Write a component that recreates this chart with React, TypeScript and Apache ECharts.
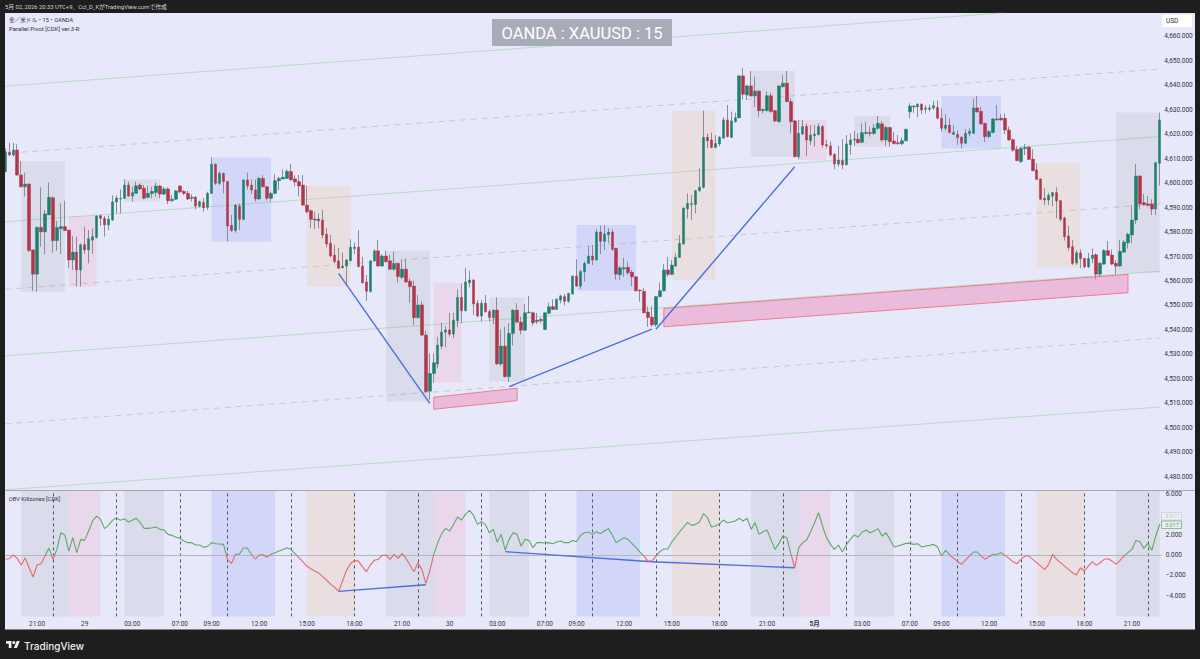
import React, { useEffect, useRef } from "react";
import * as echarts from "echarts";

// open, close, low, high
const candles: number[][] = [
[4604.7,4612.8,4604.3,4614.2],[4612.6,4611.5,4611.1,4616.5],[4611.5,4613.5,4610.8,4616.5],[4613.5,4603.3,4603.0,4615.8],[4603.3,4598.5,4598.3,4609.0],[4598.5,4599.6,4594.5,4604.3],[4599.6,4572.4,4572.0,4599.9],[4572.7,4562.8,4556.0,4572.7],
[4562.8,4581.9,4555.6,4582.2],[4581.9,4580.1,4574.0,4598.3],[4580.1,4587.4,4571.0,4589.0],[4587.0,4594.2,4587.0,4600.2],[4594.0,4576.5,4571.6,4594.5],[4576.5,4581.9,4572.4,4584.6],[4581.4,4582.2,4571.0,4591.7],[4582.2,4580.6,4580.6,4592.8],
[4580.8,4568.6,4565.2,4580.8],[4568.6,4571.8,4564.5,4578.4],[4571.8,4564.5,4557.7,4578.1],[4564.5,4574.8,4557.7,4575.4],[4574.8,4572.7,4571.0,4582.2],[4572.7,4577.3,4567.2,4580.8],[4576.7,4578.1,4571.0,4581.5],[4577.8,4586.6,4577.3,4586.8],
[4586.7,4585.6,4582.5,4587.0],[4585.6,4582.9,4578.1,4586.6],[4582.9,4585.2,4580.8,4586.8],[4584.9,4592.3,4584.6,4595.0],[4592.3,4593.9,4587.6,4595.0],[4593.5,4593.8,4587.6,4597.4],[4593.8,4599.2,4593.4,4601.5],[4599.2,4594.7,4594.5,4600.6],
[4594.7,4596.1,4592.4,4598.5],[4595.8,4598.9,4595.8,4600.6],[4599.2,4597.6,4597.2,4599.9],[4597.9,4593.8,4593.4,4599.2],[4594.2,4595.8,4593.8,4598.8],[4595.8,4596.6,4593.8,4598.5],[4596.2,4598.8,4594.5,4600.2],[4598.8,4595.5,4593.8,4599.2],
[4595.5,4597.6,4595.1,4598.5],[4597.6,4592.8,4591.4,4598.3],[4592.8,4593.4,4592.4,4595.1],[4593.4,4596.8,4593.1,4597.2],[4598.8,4596.4,4595.8,4599.2],[4596.6,4595.8,4595.1,4597.2],[4595.8,4593.5,4593.1,4596.9],[4593.8,4594.2,4592.4,4595.5],
[4594.2,4590.6,4589.3,4594.7],[4590.6,4592.4,4590.1,4592.8],[4592.1,4589.9,4588.3,4593.8],[4590.1,4595.8,4589.0,4596.5],[4595.8,4607.7,4595.5,4610.5],[4607.7,4599.9,4599.2,4608.1],[4599.9,4604.0,4599.2,4604.7],[4604.0,4600.6,4595.8,4604.3],
[4600.6,4582.5,4576.1,4600.9],[4582.7,4580.6,4580.1,4587.0],[4580.6,4591.0,4579.7,4591.4],[4590.6,4585.2,4580.8,4591.7],[4585.2,4601.3,4584.9,4601.5],[4601.3,4598.9,4597.4,4604.3],[4599.2,4597.2,4595.5,4601.5],[4597.2,4593.5,4592.4,4601.5],
[4593.5,4601.9,4593.1,4602.6],[4601.9,4598.5,4598.3,4603.3],[4598.5,4593.8,4592.8,4598.8],[4593.8,4595.8,4592.4,4596.5],[4595.8,4601.0,4595.5,4603.7],[4601.0,4601.9,4597.2,4602.6],[4601.7,4602.4,4601.5,4605.6],[4601.9,4604.8,4601.7,4605.6],
[4604.7,4601.3,4601.0,4607.8],[4601.7,4600.5,4598.6,4603.3],[4600.6,4598.8,4594.5,4603.3],[4599.2,4591.0,4590.8,4603.3],[4591.0,4588.3,4587.6,4598.8],[4588.7,4585.2,4581.5,4589.3],[4584.9,4585.3,4581.2,4588.3],[4585.3,4584.6,4581.5,4587.6],
[4584.9,4578.8,4577.4,4589.0],[4579.1,4575.1,4573.8,4581.5],[4575.4,4570.2,4569.7,4578.8],[4570.6,4567.9,4567.2,4574.7],[4568.2,4565.2,4564.9,4573.6],[4565.4,4566.1,4565.2,4571.6],[4566.1,4568.6,4558.4,4568.8],[4568.3,4573.8,4568.0,4577.0],
[4573.3,4573.8,4571.0,4575.7],[4573.8,4565.9,4565.6,4580.8],[4566.1,4559.3,4559.0,4569.9],[4559.6,4555.8,4551.9,4562.4],[4555.8,4568.2,4555.2,4568.6],[4568.2,4572.3,4567.9,4572.9],[4572.3,4566.1,4565.9,4576.8],[4566.1,4570.2,4565.9,4571.0],
[4570.2,4567.9,4567.5,4572.4],[4568.2,4564.8,4564.5,4570.6],[4564.8,4567.2,4564.2,4572.0],[4567.2,4561.8,4559.3,4567.5],[4561.5,4564.8,4560.7,4568.6],[4564.8,4559.6,4559.3,4569.1],[4559.9,4557.7,4551.1,4561.1],[4557.9,4545.0,4542.0,4560.1],
[4545.0,4550.2,4544.7,4554.3],[4550.2,4537.9,4537.5,4551.9],[4537.9,4514.8,4514.5,4539.7],[4515.0,4522.2,4511.4,4530.4],[4522.2,4526.6,4518.4,4530.4],[4526.1,4533.8,4524.3,4537.2],[4533.4,4539.1,4532.1,4542.9],[4539.1,4540.0,4532.9,4541.6],
[4540.0,4538.3,4537.2,4547.0],[4538.3,4544.0,4536.6,4547.0],[4543.8,4553.3,4541.1,4556.6],[4553.3,4547.9,4542.7,4559.0],[4547.9,4559.6,4547.5,4565.2],[4559.3,4560.4,4557.4,4564.2],[4560.4,4550.6,4546.1,4560.7],[4550.9,4545.7,4545.1,4552.2],
[4545.7,4550.9,4543.4,4552.2],[4550.9,4547.5,4547.0,4554.3],[4547.5,4545.1,4543.4,4548.4],[4545.0,4548.1,4542.4,4548.4],[4548.1,4526.1,4525.7,4553.3],[4526.1,4533.4,4525.3,4540.2],[4533.4,4520.9,4520.6,4541.3],[4520.9,4538.6,4518.8,4542.7],
[4538.6,4548.1,4533.6,4548.4],[4548.1,4543.2,4542.7,4550.9],[4543.2,4539.9,4538.2,4545.4],[4539.9,4547.0,4539.7,4550.6],[4547.0,4547.3,4546.8,4553.9],[4547.0,4542.9,4541.7,4547.5],[4543.4,4544.0,4542.4,4547.0],[4544.3,4543.8,4542.7,4545.1],
[4540.2,4547.0,4539.9,4547.3],[4546.8,4549.5,4546.5,4551.1],[4549.5,4548.4,4548.1,4552.5],[4548.4,4552.5,4548.1,4552.9],[4552.2,4553.9,4550.9,4554.4],[4553.6,4551.7,4550.0,4554.7],[4551.7,4554.9,4551.1,4555.2],[4554.7,4562.0,4554.4,4562.3],
[4562.0,4557.9,4557.7,4568.8],[4557.9,4563.8,4556.6,4564.5],[4563.8,4567.2,4559.7,4567.9],[4567.2,4570.2,4566.9,4574.3],[4570.2,4568.6,4566.5,4574.7],[4568.6,4580.0,4568.3,4581.1],[4580.0,4576.2,4571.0,4582.6],[4576.2,4579.2,4572.6,4582.9],
[4578.9,4580.0,4575.4,4581.6],[4580.0,4572.9,4572.4,4581.1],[4573.3,4562.8,4560.6,4573.6],[4562.6,4565.4,4560.4,4566.1],[4565.0,4565.4,4561.7,4569.4],[4565.6,4563.4,4562.4,4567.9],[4563.6,4561.7,4557.9,4564.5],[4561.7,4556.0,4555.6,4562.0],
[4556.3,4556.0,4551.5,4556.6],[4555.7,4547.0,4546.8,4557.1],[4547.3,4545.1,4541.3,4549.5],[4545.2,4542.1,4541.3,4549.8],[4542.1,4553.6,4541.3,4553.8],[4553.6,4556.0,4553.3,4559.3],[4556.0,4564.5,4555.7,4566.9],[4564.5,4562.7,4561.7,4569.9],
[4562.7,4566.5,4562.4,4568.6],[4566.1,4569.6,4565.8,4571.3],[4569.6,4575.4,4569.4,4578.8],[4575.1,4589.8,4574.8,4590.1],[4589.5,4591.7,4585.6,4595.8],[4591.3,4591.6,4584.9,4595.1],[4591.3,4596.9,4587.6,4597.2],[4596.9,4598.3,4596.5,4606.0],
[4598.3,4618.7,4597.8,4629.6],[4618.7,4617.3,4614.2,4620.3],[4617.6,4614.6,4614.2,4620.6],[4614.6,4616.2,4614.2,4619.6],[4616.0,4618.7,4615.1,4619.2],[4618.4,4625.8,4618.1,4626.9],[4625.8,4619.0,4618.7,4631.9],[4618.7,4625.4,4618.4,4629.2],
[4625.1,4626.7,4624.7,4628.8],[4626.7,4643.8,4626.5,4644.0],[4643.8,4636.3,4634.2,4646.9],[4636.0,4639.7,4634.0,4640.1],[4639.7,4635.6,4635.3,4645.8],[4635.6,4637.6,4631.0,4643.5],[4637.6,4629.6,4627.1,4638.0],[4629.6,4630.1,4628.5,4630.5],
[4629.6,4635.7,4629.2,4637.4],[4635.7,4629.2,4628.8,4636.9],[4629.6,4625.4,4624.8,4629.9],[4625.1,4639.7,4624.8,4640.0],[4639.4,4640.8,4639.1,4644.2],[4640.8,4633.3,4633.0,4645.8],[4633.3,4625.1,4620.3,4634.6],[4625.4,4610.8,4610.5,4625.8],
[4610.8,4620.3,4609.7,4625.8],[4620.1,4623.1,4619.6,4625.8],[4623.1,4617.6,4611.1,4624.4],[4617.3,4619.6,4615.6,4623.7],[4619.4,4620.0,4614.9,4623.7],[4619.8,4623.1,4619.6,4624.4],[4623.1,4615.6,4614.6,4623.7],[4615.7,4615.2,4614.2,4617.6],
[4615.2,4611.5,4610.8,4616.9],[4611.7,4607.8,4605.6,4612.2],[4607.8,4609.4,4606.7,4615.2],[4609.2,4607.5,4605.6,4617.9],[4607.5,4616.0,4607.2,4619.6],[4615.7,4617.6,4611.6,4620.3],[4617.6,4617.9,4615.2,4621.4],[4617.9,4616.5,4616.2,4620.3],
[4616.7,4620.6,4616.3,4624.4],[4620.3,4620.7,4619.7,4625.1],[4620.7,4620.3,4619.0,4623.1],[4620.3,4622.5,4619.7,4624.2],[4622.4,4624.4,4621.7,4627.4],[4624.2,4617.6,4616.9,4625.4],[4617.6,4622.7,4615.2,4623.3],[4622.7,4616.9,4614.9,4623.1],
[4617.2,4616.1,4615.8,4621.0],[4616.5,4616.1,4615.6,4619.7],[4616.1,4617.3,4615.4,4618.7],[4617.3,4622.0,4617.1,4622.2],[4629.1,4631.5,4626.5,4632.6],[4631.2,4631.5,4628.8,4631.8],[4631.2,4632.2,4626.9,4632.6],[4632.2,4629.9,4628.2,4632.6],
[4630.2,4630.6,4628.5,4631.8],[4630.2,4630.7,4629.3,4632.1],[4630.7,4631.6,4629.9,4633.7],[4630.9,4626.5,4626.1,4633.7],[4626.5,4622.4,4621.0,4630.6],[4622.4,4623.7,4621.4,4628.2],[4623.7,4620.7,4620.3,4626.5],[4619.9,4620.7,4619.7,4623.7],
[4619.9,4618.6,4615.6,4621.4],[4618.7,4616.3,4614.1,4619.2],[4616.3,4620.3,4616.0,4622.0],[4620.2,4621.2,4619.0,4622.4],[4620.3,4630.7,4620.1,4634.6],[4630.7,4629.1,4628.8,4635.6],[4629.3,4624.2,4623.9,4631.2],[4624.4,4619.0,4616.8,4624.7],
[4619.0,4621.0,4618.3,4621.7],[4620.7,4626.2,4620.3,4626.5],[4625.8,4626.2,4625.5,4631.9],[4626.5,4625.8,4625.5,4628.2],[4626.5,4621.7,4620.1,4628.5],[4621.7,4617.6,4617.3,4623.1],[4617.7,4613.5,4612.8,4618.3],[4613.8,4609.2,4608.9,4615.2],
[4608.8,4614.2,4608.1,4614.9],[4614.1,4614.6,4611.5,4616.0],[4614.7,4609.7,4609.4,4615.2],[4609.8,4605.1,4604.8,4613.8],[4605.4,4601.5,4601.3,4608.1],[4601.7,4593.4,4593.1,4601.9],[4593.8,4593.1,4591.0,4597.9],[4593.1,4595.0,4591.0,4596.1],
[4594.7,4596.1,4590.4,4596.5],[4596.1,4592.7,4585.6,4598.3],[4592.8,4585.2,4584.2,4593.1],[4585.7,4578.1,4576.5,4586.3],[4578.4,4573.7,4572.4,4582.5],[4574.0,4567.2,4566.5,4576.7],[4567.4,4571.5,4566.6,4572.6],[4571.5,4569.2,4565.2,4572.9],
[4569.2,4565.8,4565.2,4569.5],[4565.8,4569.2,4565.2,4571.5],[4569.2,4570.6,4567.2,4573.3],[4570.7,4562.8,4560.7,4571.3],[4562.8,4567.2,4561.8,4567.9],[4566.9,4572.5,4566.6,4572.9],[4572.4,4570.5,4570.2,4576.3],[4570.6,4566.9,4566.5,4572.9],
[4567.2,4566.1,4562.8,4568.6],[4566.1,4572.1,4565.8,4576.7],[4571.8,4575.9,4571.5,4576.7],[4575.6,4579.1,4573.2,4579.7],[4578.8,4584.9,4575.4,4591.0],[4584.9,4602.9,4583.3,4607.8],[4602.9,4591.5,4589.3,4603.2],[4592.0,4591.1,4590.9,4595.5],
[4591.5,4590.9,4590.4,4594.7],[4591.5,4589.4,4586.9,4593.4],[4589.4,4608.3,4586.9,4608.8],[4608.1,4625.8,4599.1,4628.8],
];

const obv: number[] = [
-0.39,-0.36,0,-0.33,-0.98,-0.29,-1.24,-2.15,-0.98,-0.85,-0.10,0.68,-0.42,0.55,2.18,1.96,0.39,1.70,0.23,1.53,
1.43,2.35,3.33,3.81,3.49,2.58,2.90,3.39,3.65,3.39,3.55,3.23,3.39,3.59,3.16,2.61,2.61,2.67,2.74,2.51,
2.45,2.02,1.92,1.76,1.63,1.37,1.21,1.21,0.98,0.98,0.75,0.85,1.21,1.11,1.08,1.04,-0.42,-0.82,0.07,0.07,
0.68,0.68,0.07,-0.39,0,0.03,-0.20,0.07,0.23,0.39,0.55,0.72,0.55,0.13,-0.26,-0.65,-1.08,-1.34,-1.56,-1.76,
-2.12,-2.45,-2.87,-3.13,-3.55,-2.54,-1.50,-0.85,-0.52,-0.59,-1.14,-1.63,-0.98,-0.52,-0.42,-0.03,0,-0.42,0.07,-0.33,
0.13,-0.33,-0.98,-1.63,-0.75,-1.40,-2.77,-1.56,0.07,1.21,2.09,2.61,2.35,3.00,3.72,3.42,3.98,4.37,3.91,3.00,
3.26,3.00,2.18,2.51,1.27,2.02,0.49,1.53,2.18,2.02,0.88,1.53,1.43,0.72,1.21,1.21,1.17,1.21,1.11,1.27,
1.37,1.21,1.21,1.43,1.30,1.92,2.18,2.25,2.02,2.28,2.09,2.35,2.58,1.96,1.21,1.47,1.70,1.53,1.11,0.72,
0.29,-0.10,-0.59,-0.59,-0.10,0.33,0.59,0.59,1.27,1.76,2.28,2.74,3.19,2.90,3.00,3.23,4.04,3.65,2.74,2.84,
3.06,3.42,3.16,3.23,3.33,3.59,3.33,3.59,2.51,3.16,2.02,2.28,2.45,1.53,0.55,1.11,1.86,1.70,0.13,-1.24,
0.72,1.21,1.47,2.28,3.16,4.14,2.84,1.70,1.04,0.55,0.98,0.29,0.98,1.53,1.96,1.76,2.25,2.45,2.18,2.35,
2.58,1.86,2.18,1.53,0.78,0.88,1.01,1.14,1.14,1.04,1.11,0.78,0.88,0.95,1.04,0.78,-0.10,0.46,0.07,-0.33,
-0.59,-0.91,-0.52,-0.10,0.29,0.29,-0.10,-0.42,-0.16,0.07,0.07,0.23,-0.03,-0.33,-0.65,-0.85,-0.42,-0.10,-0.10,-0.42,
-0.75,-1.08,-1.40,-0.91,0.07,-0.42,-0.75,-1.08,-1.40,-1.73,-1.96,-1.24,-1.56,-1.08,-0.65,-1.01,-0.75,-0.42,-0.36,-0.59,
-0.91,-0.52,-0.10,0.23,0.55,1.43,1.30,0.65,1.14,0.46,1.86,3.017,
];

const categories = candles.map((_, i) => String(i));
const tickIndex = [8,20,32,44,52,64,76,88,100,112,124,136,144,156,168,180,192,204,216,228,236,248,260,272,284];
const tickText = ["21:00","29","03:00","07:00","09:00","12:00","15:00","18:00","21:00","30","03:00","07:00","09:00","12:00","15:00","18:00","21:00","5月","03:00","07:00","09:00","12:00","15:00","18:00","21:00"];
const dayLabels = ["5月"];
const priceTicks = [4480,4490,4500,4510,4520,4530,4540,4550,4560,4570,4580,4590,4600,4610,4620,4630,4640,4650,4660];
const obvTicks = [-4,-2,0,2,6];
const dashedDays = [12,28,44,56,72,88,104,120,136,148,164,180,196,212,228,240,256,272,288];

const GRAY = "rgba(120,130,130,0.13)", PINK = "rgba(240,130,150,0.15)", BLUE = "rgba(100,130,250,0.17)", SAND = "rgba(240,180,90,0.16)";
// killzones: start candle, end candle, top price, bottom price, colour
const zones: [number, number, number, number, string][] = [
[4,15,4609.0,4555.6,GRAY],[16,23,4586.6,4557.7,PINK],[30,39,4601.5,4592.4,GRAY],[52,67,4610.5,4576.1,BLUE],
[76,87,4598.8,4557.7,SAND],[96,107,4572.4,4510.7,GRAY],[108,115,4559.3,4518.4,PINK],[122,131,4553.3,4518.8,GRAY],
[144,159,4582.9,4556.0,BLUE],[168,179,4629.6,4560.4,SAND],[188,199,4645.8,4610.8,GRAY],[200,207,4625.8,4609.4,PINK],
[214,223,4627.4,4614.9,GRAY],[236,251,4635.6,4614.1,BLUE],[260,271,4608.1,4565.6,SAND],[280,291,4628.8,4563.4,GRAY],
];
const bands: [number, number, string][] = [
[4,16,GRAY],[16,24,PINK],[30,40,GRAY],[52,68,BLUE],[76,88,SAND],[96,108,GRAY],[108,116,PINK],[122,132,GRAY],
[144,160,BLUE],[168,180,SAND],[188,200,GRAY],[200,208,PINK],[214,224,GRAY],[236,252,BLUE],[260,272,SAND],[280,291,GRAY],
];
const channelGreen: number[][] = [[0,4639.6,251,4669.5],[0,4584.2,291,4619.0],[0,4529.4,291,4564.0],[0,4474.7,291,4508.5]];
const channelDashed: number[][] = [[4,4612.6,291,4646.6],[0,4556.6,291,4591.5],[0,4501.6,291,4536.7]];
const trendMain: number[][] = [[84,4563.1,107,4510.0],[127,4516.8,163,4540.3],[164,4540.3,199,4606.7]];
const trendObv: number[][] = [[84,-3.55,106,-2.90],[126,0.33,163,-0.65],[163,-0.65,199,-1.24]];
const pinkBoxes: number[][][] = [
[[108,4512.5],[129,4516.2],[129,4511.1],[108,4507.6]],
[[166,4548.8],[283,4562.7],[283,4555.2],[166,4541.3]],
];

const BG = "#e8e8fb", DARK = "#1e1e1e", UP = "#1f7f6d", DOWN = "#b2354a", WICK = "#8c8c94";
const FONT = "Roboto, 'Noto Sans CJK JP', sans-serif";
const AXIS = "#34343c";

echarts.graphic.registerShape("tvlogo", echarts.graphic.extendPath(
  "M14 22H7V11H0V4h14v18zM28 22h-8l7.5-18h8L28 22zM16 8a4 4 0 1 0 8 0a4 4 0 1 0-8 0z", {}) as any);

const priceText = (v: number) => v.toLocaleString("en-US", { minimumFractionDigits: 3, maximumFractionDigits: 3 });

export default function App() {
  const ref = useRef<HTMLDivElement>(null);
  useEffect(() => {
    document.body.style.margin = "0";
    document.body.style.background = DARK;
    const chart = echarts.init(ref.current!, undefined, { renderer: "svg" });
    const label = (x: number, y: number, text: string, size: number, fill: string, extra: any = {}) => ({
      type: "text", x, y, z: 60, silent: true,
      style: { text, fontSize: size, fill, fontFamily: FONT, textVerticalAlign: "middle", ...extra },
    });
    const lineSeries = (r: number[], dashed: boolean, color: string) => ({
      type: "line", xAxisIndex: 0, yAxisIndex: 0, silent: true, symbol: "none", z: 1,
      data: [[r[0], r[1]], [r[2], r[3]]],
      lineStyle: { width: 1, color, type: dashed ? [6, 5] : "solid" },
    });
    const blue = { color: "#4a6fdf", width: 1.4, type: "solid" };
    chart.setOption({
      animation: false,
      backgroundColor: DARK,
      tooltip: { show: false },
      grid: [
        { left: 3.35, top: 13, width: 1158.35, height: 477 },
        { left: 3.35, top: 491, width: 1158.35, height: 125.4 },
      ],
      xAxis: [
        { type: "category", gridIndex: 0, data: categories, show: false, boundaryGap: true },
        {
          type: "category", gridIndex: 1, data: categories, boundaryGap: true,
          axisLine: { show: false }, axisTick: { show: false },
          axisLabel: {
            interval: (i: number) => tickIndex.includes(i),
            margin: 4, fontSize: 6.5, color: AXIS, fontFamily: FONT,
            formatter: (_: string, i: number) => {
              const t = tickText[tickIndex.indexOf(i)] ?? "";
              return dayLabels.includes(t) ? `{b|${t}}` : t;
            },
            rich: { b: { fontWeight: "bold", fontSize: 6.5, color: AXIS, fontFamily: FONT } },
          },
        },
      ],
      yAxis: [
        {
          type: "value", gridIndex: 0, position: "right", min: 4474.6, max: 4669.5,
          splitLine: { show: false }, axisLine: { show: false }, axisTick: { show: false },
          axisLabel: { customValues: priceTicks, margin: 2.5, fontSize: 6.5, color: AXIS, fontFamily: FONT, formatter: priceText },
        },
        {
          type: "value", gridIndex: 1, position: "right", min: -6, max: 6.26,
          splitLine: { show: false }, axisLine: { show: false }, axisTick: { show: false },
          axisLabel: {
            customValues: obvTicks, margin: 4, fontSize: 6.5, color: AXIS, fontFamily: FONT,
            formatter: (v: number) => (v < 0 ? "−" : "") + Math.abs(v).toFixed(3),
          },
        },
      ],
      visualMap: [{
        type: "piecewise", show: false, seriesIndex: 0, dimension: 1,
        pieces: [{ gte: -6, lt: 0, color: "#e8666a" }, { gte: 0, lte: 6.26, color: "#5fa866" }],
      }],
      series: [
        {
          name: "OBV", type: "line", xAxisIndex: 1, yAxisIndex: 1, data: obv, symbol: "none", z: 4, silent: true,
          lineStyle: { width: 1.1 },
        },
        {
          type: "line", xAxisIndex: 1, yAxisIndex: 1, data: [], silent: true, z: 1,
          markArea: {
            silent: true, z: 1,
            data: bands.map((b) => [
              { xAxis: b[0], yAxis: -6, itemStyle: { color: b[2] } },
              { xAxis: b[1], yAxis: 6.26 },
            ]),
          },
          markLine: {
            silent: true, symbol: "none", z: 3, label: { show: false }, animation: false,
            data: [
              ...dashedDays.map((d) => ({ xAxis: d, lineStyle: { color: "#55555f", width: 1, type: [3, 3] } })),
              { yAxis: 0, lineStyle: { color: "#b4b4c2", width: 1, type: "solid" } },
              ...trendObv.map((r) => [
                { coord: [r[0], r[1]], lineStyle: blue },
                { coord: [r[2], r[3]] },
              ]),
            ],
          },
        },
        ...channelGreen.map((r) => lineSeries(r, false, "#b5dcc2")),
        ...channelDashed.map((r) => lineSeries(r, true, "#c8c8d2")),
        {
          type: "line", xAxisIndex: 0, yAxisIndex: 0, data: [], silent: true, z: 1,
          markArea: {
            silent: true, z: 2,
            data: zones.map((b) => [
              { xAxis: b[0], yAxis: b[2], itemStyle: { color: b[4] } },
              { xAxis: b[1], yAxis: b[3] },
            ]),
          },
          markLine: {
            silent: true, symbol: "none", z: 8, label: { show: false },
            data: trendMain.map((r) => [
              { coord: [r[0], r[1]], lineStyle: blue },
              { coord: [r[2], r[3]] },
            ]),
          },
        },
        {
          type: "custom", xAxisIndex: 0, yAxisIndex: 0, silent: true, z: 3, clip: true,
          data: pinkBoxes.map((_, i) => [i]),
          renderItem: (params: any, api: any) => ({
            type: "polygon",
            shape: { points: pinkBoxes[params.dataIndex].map((p) => api.coord(p)) },
            style: { fill: "rgba(236,150,195,0.55)", stroke: "#e8808f", lineWidth: 1 },
          }),
        },
        {
          name: "wicks", type: "candlestick", xAxisIndex: 0, yAxisIndex: 0, silent: true, z: 5, barWidth: 1,
          data: candles,
          itemStyle: { color: WICK, color0: WICK, borderColor: WICK, borderColor0: WICK, borderWidth: 1 },
        },
        {
          name: "XAUUSD", type: "candlestick", xAxisIndex: 0, yAxisIndex: 0, silent: true, z: 6, barWidth: 3,
          data: candles.map(([o, c]) => [o, c, Math.min(o, c), Math.max(o, c)]),
          itemStyle: { color: UP, color0: DOWN, borderColor: UP, borderColor0: DOWN, borderWidth: 0.5 },
        },
      ],
      graphic: [
        { type: "rect", z: 0, silent: true, shape: { x: 5, y: 13, width: 1190, height: 616.5 }, style: { fill: BG } },
        { type: "rect", z: 55, silent: true, shape: { x: 0, y: 0, width: 5, height: 659 }, style: { fill: DARK } },
        { type: "line", z: 55, silent: true, shape: { x1: 5, y1: 490.5, x2: 1195, y2: 490.5 }, style: { stroke: "#a6a6ae", lineWidth: 1 } },
        label(5, 7, "5月 02, 2026 20:33 UTC+9、Ccl_D_KがTradingView.comで作成", 5.8, "#d8d8d8"),
        label(9, 20, "金／米ドル・15・OANDA", 5.6, "#30303a"),
        label(9, 28.5, "Parallel Pivot [CDK] ver.3-R", 6, "#30303a"),
        label(8.7, 498.5, "OBV Killzones [CDK]", 5.8, "#30303a"),
        { type: "rect", z: 58, silent: true, shape: { x: 492, y: 19, width: 180, height: 27 }, style: { fill: "#a8acb8" } },
        label(582, 33, "OANDA : XAUUSD : 15", 16.5, "#ffffff", { textAlign: "center" }),
        { type: "rect", z: 58, silent: true, shape: { x: 1162, y: 15, width: 30, height: 12 }, style: { fill: "#ffffff" } },
        label(1166, 21, "USD", 6.5, "#30303a"),
        { type: "rect", z: 58, silent: true, shape: { x: 1161.5, y: 512.5, width: 20, height: 7.5 }, style: { fill: "#eeeef8", stroke: "#c8c8d0", lineWidth: 0.7 } },
        label(1165, 516, "3.017", 5.6, "#c4c4cc"),
        { type: "rect", z: 58, silent: true, shape: { x: 1161.5, y: 521, width: 20, height: 7.5 }, style: { fill: "#eeeef8", stroke: "#5fa866", lineWidth: 0.7 } },
        label(1165, 524.8, "3.017", 5.6, "#5fa866"),
        { type: "tvlogo", z: 60, silent: true, x: 6, y: 639.4, scaleX: 0.39, scaleY: 0.39, style: { fill: "#f0f0f0" } },
        label(24, 645.5, "TradingView", 10, "#f0f0f0", { fontWeight: 500, fontFamily: "Inter, Roboto, sans-serif" }),
      ],
    });
    return () => chart.dispose();
  }, []);
  return <div ref={ref} style={{ position: "absolute", left: 0, top: 0, width: 1200, height: 659 }} />;
}
